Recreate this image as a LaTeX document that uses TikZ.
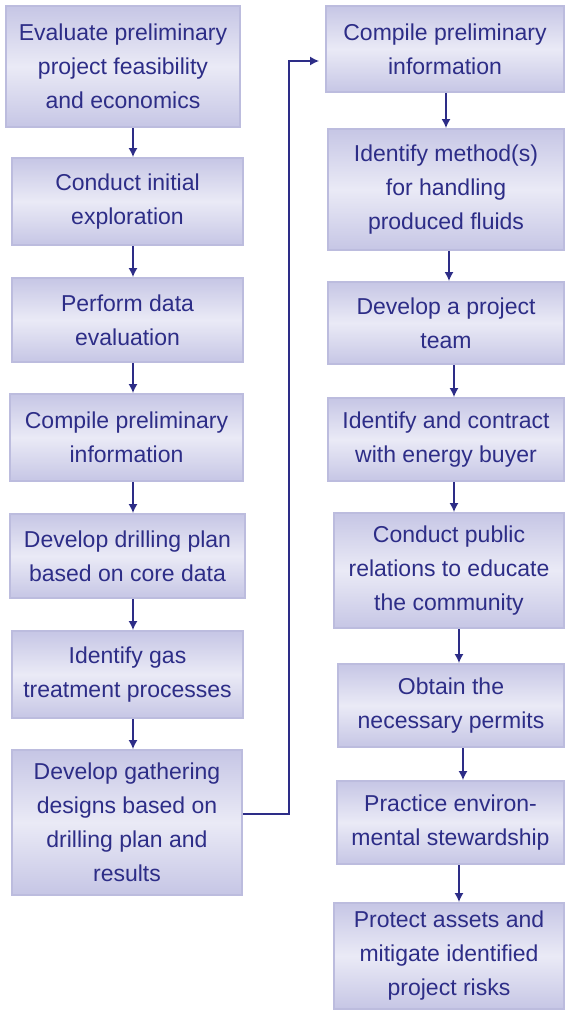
\documentclass[tikz,border=0pt]{standalone}
\usepackage{fontspec}
\setmainfont{Liberation Sans}
\usetikzlibrary{arrows.meta,calc,positioning}
\definecolor{stepink}{RGB}{45,45,135}
\definecolor{stepedge}{RGB}{198,198,229}
\definecolor{steplight}{RGB}{234,234,246}
\definecolor{stepline}{RGB}{188,188,222}
\tikzset{
    stepbox/.style={draw=stepline,line width=2bp,inner sep=0pt,
        top color=stepedge,bottom color=stepedge,middle color=steplight,
        text=stepink,align=center,
        font=\fontsize{23bp}{34bp}\selectfont},
    flow/.style={draw=stepink,line width=1.3bp,-{Latex[length=9bp,width=9bp]}}
}

\begin{document}
\begin{tikzpicture}[x=1bp,y=-1bp]
        \useasboundingbox (0,0) rectangle (566,1010);

        % left column
        \node[stepbox,minimum width=234bp,minimum height=121bp] (evalA) at (123,66.5)
            {Evaluate preliminary\\project feasibility\\and economics};
        \node[stepbox,minimum width=231bp,minimum height=87bp] (explA) at (127.5,201.5)
            {Conduct initial\\exploration};
        \node[stepbox,minimum width=231bp,minimum height=84bp] (dataA) at (127.5,320)
            {Perform data\\evaluation};
        \node[stepbox,minimum width=233bp,minimum height=87bp] (compA) at (126.5,437.5)
            {Compile preliminary\\information};
        \node[stepbox,minimum width=235bp,minimum height=84bp] (drillA) at (127.5,556)
            {Develop drilling plan\\based on core data};
        \node[stepbox,minimum width=231bp,minimum height=87bp] (gasA) at (127.5,674.5)
            {Identify gas\\treatment processes};
        \node[stepbox,minimum width=230bp,minimum height=145bp] (gathA) at (127,822.5)
            {Develop gathering\\designs based on\\drilling plan and\\results};

        % right column
        \node[stepbox,minimum width=238bp,minimum height=86bp] (compB) at (445,49)
            {Compile preliminary\\information};
        \node[stepbox,minimum width=236bp,minimum height=121bp] (fluidB) at (446,189.5)
            {Identify method(s)\\for handling\\produced fluids};
        \node[stepbox,minimum width=236bp,minimum height=82bp] (teamB) at (446,323)
            {Develop a project\\team};
        \node[stepbox,minimum width=236bp,minimum height=83bp] (buyerB) at (446,439.5)
            {Identify and contract\\with energy buyer};
        \node[stepbox,minimum width=230bp,minimum height=115bp] (publicB) at (449,570.5)
            {Conduct public\\relations to educate\\the community};
        \node[stepbox,minimum width=226bp,minimum height=83bp] (permitB) at (451,705.5)
            {Obtain the\\necessary permits};
        \node[stepbox,minimum width=227bp,minimum height=83bp] (envB) at (450.5,822.5)
            {Practice environ-\\mental stewardship};
        \node[stepbox,minimum width=230bp,minimum height=106bp] (riskB) at (449,956)
            {Protect assets and\\mitigate identified\\project risks};

        % arrows down the left column
        \foreach \a/\b in {evalA/explA,explA/dataA,dataA/compA,compA/drillA,drillA/gasA,gasA/gathA}
            \draw[flow] (\a.south -| 133,0) -- (\b.north -| 133,0);

        % arrows down the right column
        \draw[flow] (compB.south -| 446,0) -- (fluidB.north -| 446,0);
        \draw[flow] (fluidB.south -| 449,0) -- (teamB.north -| 449,0);
        \draw[flow] (teamB.south -| 454,0) -- (buyerB.north -| 454,0);
        \draw[flow] (buyerB.south -| 454,0) -- (publicB.north -| 454,0);
        \draw[flow] (publicB.south -| 459,0) -- (permitB.north -| 459,0);
        \draw[flow] (permitB.south -| 463,0) -- (envB.north -| 463,0);
        \draw[flow] (envB.south -| 459,0) -- (riskB.north -| 459,0);

        % link between the columns
        \draw[flow] ([yshift=8.5bp]gathA.east) -| ([xshift=-36bp,yshift=-12bp]compB.west)
            -- ([xshift=-6bp,yshift=-12bp]compB.west);
    \end{tikzpicture}
\end{document}
